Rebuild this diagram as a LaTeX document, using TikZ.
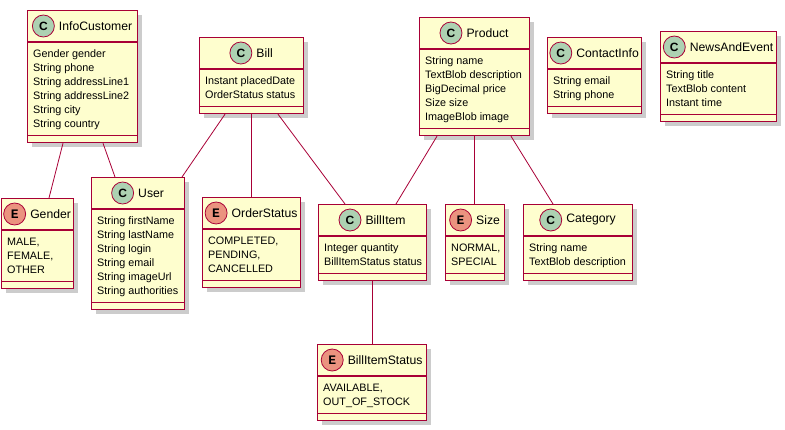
\documentclass[tikz,border=0pt]{standalone}
\usepackage{fontspec}
\setmainfont{Liberation Sans}
\newfontfamily\monofont{Liberation Mono}
\usepackage{tikz}
\usetikzlibrary{positioning,calc,shadows}
\definecolor{umlfill}{HTML}{FEFECE}
\definecolor{umlborder}{HTML}{A80036}
\definecolor{circC}{HTML}{ADD1B2}
\definecolor{circE}{HTML}{EB937F}
\tikzset{umlbox/.style={draw=umlborder,fill=umlfill,line width=1.2pt,anchor=north west,inner sep=0pt,
           drop shadow={shadow xshift=4pt,shadow yshift=-4pt,fill=black,opacity=0.2}},
         umlline/.style={draw=umlborder,line width=0.8pt},
         umltitle/.style={inner sep=0pt,font=\fontsize{12.2}{14}\selectfont},
         umlattr/.style={inner sep=0pt,anchor=north west,align=left,font=\fontsize{10.8}{14}\selectfont},
         umlcirc/.style={circle,draw=umlborder,line width=0.8pt,fill=circ#1,minimum size=22pt,inner sep=0pt}
}
\newcommand{\umlletterC}{\fontsize{12}{12}\selectfont\bfseries C}
\newcommand{\umlletterE}{\fontsize{13}{13}\selectfont\monofont\bfseries E}
% #1 id, #2 C or E, #3 title, #4 x, #5 y, #6 width, #7 number of lines, #8 lines
\newcommand{\umlclass}[8]{%
  \node[umlbox,minimum width=#6,minimum height={48+14*#7}] (#1) at (#4,#5) {};
  \draw[umlline,line width=1.2pt] ($(#1.north west)+(0,32)$) -- ($(#1.north east)+(0,32)$);
  \draw[umlline,line width=1.2pt] ($(#1.south west)+(0,-8)$) -- ($(#1.south east)+(0,-8)$);
  \node[umltitle] (#1-title) at ($(#1.north)+(13,16)$) {#3};
  \node[umlcirc=#2,left=4pt of #1-title] (#1-icon) {\csname umlletter#2\endcsname};
  \node[umlattr] (#1-attr) at ($(#1.north west)+(6,37.2)$) {\strut #8};
}

\begin{document}
\begin{tikzpicture}[x=1pt,y=-1pt]
\useasboundingbox (0,0) rectangle (785,429);

%Class: InfoCustomer
\umlclass{infocustomer}{C}{InfoCustomer}{27}{10}{110}{6}{Gender gender\\String phone\\String addressLine1\\String addressLine2\\String city\\String country}
%Class: User
\umlclass{user}{C}{User}{91}{177}{93}{6}{String firstName\\String lastName\\String login\\String email\\String imageUrl\\String authorities}
%Enum: Gender
\umlclass{gender}{E}{Gender}{1}{198}{72}{3}{MALE,\\FEMALE,\\OTHER}
%Class: Bill
\umlclass{bill}{C}{Bill}{199}{37}{104}{2}{Instant placedDate\\OrderStatus status}
%Enum: OrderStatus
\umlclass{orderstatus}{E}{OrderStatus}{202}{197}{98}{3}{COMPLETED,\\PENDING,\\CANCELLED}
%Class: BillItem
\umlclass{billitem}{C}{BillItem}{318}{204}{108}{2}{Integer quantity\\BillItemStatus status}
%Enum: BillItemStatus
\umlclass{billitemstatus}{E}{BillItemStatus}{317}{344}{109}{2}{AVAILABLE,\\OUT\_OF\_STOCK}
%Class: Product
\umlclass{product}{C}{Product}{419}{17}{110}{5}{String name\\TextBlob description\\BigDecimal price\\Size size\\ImageBlob image}
%Enum: Size
\umlclass{size}{E}{Size}{445}{204}{59}{2}{NORMAL,\\SPECIAL}
%Class: Category
\umlclass{category}{C}{Category}{523}{204}{109}{2}{String name\\TextBlob description}
%Class: ContactInfo
\umlclass{contactinfo}{C}{ContactInfo}{547}{37}{94}{2}{String email\\String phone}
%Class: NewsAndEvent
\umlclass{newsandevent}{C}{NewsAndEvent}{660}{31}{116}{3}{String title\\TextBlob content\\Instant time}

%Links
\draw[umlline] ($(infocustomer.south west)+(36,0)$) -- ($(gender.north west)+(48,0)$);
\draw[umlline] ($(infocustomer.south west)+(76,0)$) -- ($(user.north west)+(24,0)$);
\draw[umlline] ($(bill.south west)+(26,0)$) -- ($(user.north west)+(91,0)$);
\draw[umlline] ($(bill.south west)+(52,0)$) -- ($(orderstatus.north west)+(49,0)$);
\draw[umlline] ($(bill.south west)+(79,0)$) -- ($(billitem.north west)+(27,0)$);
\draw[umlline] ($(product.south west)+(18,0)$) -- ($(billitem.north west)+(78,0)$);
\draw[umlline] ($(product.south west)+(55,0)$) -- ($(size.north west)+(29,0)$);
\draw[umlline] ($(product.south west)+(92,0)$) -- ($(category.north west)+(30,0)$);
\draw[umlline] ($(billitem.south west)+(54,0)$) -- ($(billitemstatus.north west)+(55,0)$);

\end{tikzpicture}
\end{document}
